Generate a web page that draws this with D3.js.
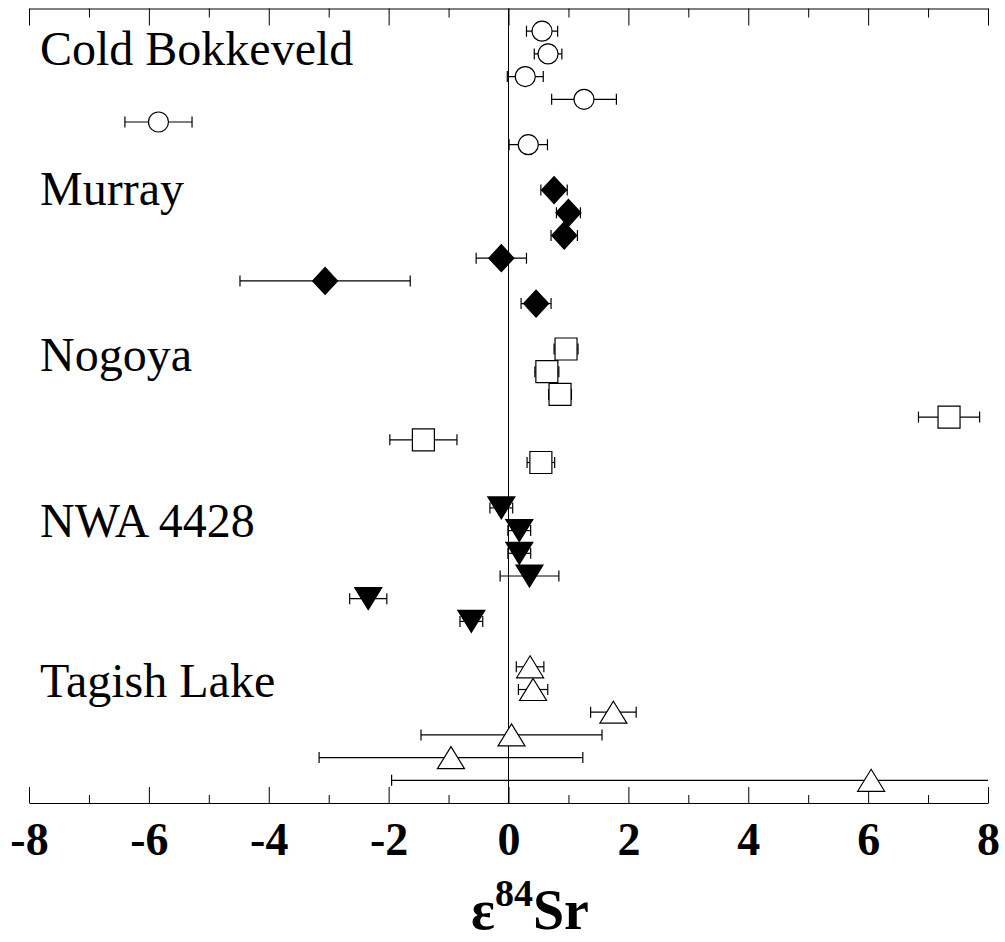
<!DOCTYPE html>
<html>
<head>
<meta charset="utf-8">
<script src="https://cdn.jsdelivr.net/npm/d3@7/dist/d3.min.js"></script>
<style>
  html, body { margin: 0; padding: 0; background: #fff; }
  svg { display: block; }
</style>
</head>
<body>
<svg id="chart" width="1005" height="942"></svg>
<script>
// Meteorite names (one group of analyses each)
const meteorites = ["Cold Bokkeveld", "Murray", "Nogoya", "NWA 4428", "Tagish Lake"];
// Marker used for each meteorite
const markers = ["circle", "diamond", "square", "triangleDown", "triangleUp"];
const filled = [false, true, false, true, false];

// ε84Sr values of the individual analyses, one array per meteorite
const coldBokkeveld = [0.56, 0.66, 0.28, 1.26, -5.84, 0.33];
const murray        = [0.76, 1.00, 0.93, -0.12, -3.06, 0.46];
const nogoya        = [0.96, 0.64, 0.86, 7.35, -1.42, 0.54];
const nwa4428       = [-0.12, 0.18, 0.18, 0.35, -2.34, -0.62];
const tagishLake    = [0.36, 0.41, 1.75, 0.05, -0.96, 6.05];

// 2σ uncertainties of the same analyses
const coldBokkeveldErr = [0.26, 0.23, 0.30, 0.54, 0.56, 0.32];
const murrayErr        = [0.22, 0.20, 0.22, 0.42, 1.42, 0.25];
const nogoyaErr        = [0.20, 0.20, 0.19, 0.51, 0.56, 0.23];
const nwa4428Err       = [0.19, 0.19, 0.19, 0.49, 0.31, 0.19];
const tagishLakeErr    = [0.23, 0.245, 0.38, 1.51, 2.20, 8.00];

// x-axis ticks
const majorTicks = [-8, -6, -4, -2, 0, 2, 4, 6, 8];
const minorTicks = [-7, -5, -3, -1, 1, 3, 5, 7];

const values = [coldBokkeveld, murray, nogoya, nwa4428, tagishLake];
const errors = [coldBokkeveldErr, murrayErr, nogoyaErr, nwa4428Err, tagishLakeErr];

// Layout
const plotLeft = 29, plotRight = 988, plotTop = 8.5, plotBottom = 803;
const rowsPerGroup = 7;          // six analyses plus one blank row
const labelRow = [2.5, 8.65, 15.95, 23.3, 30.35];

const x = d3.scaleLinear().domain([-8, 8]).range([plotLeft, plotRight]);
const y = d3.scaleLinear().domain([0, 35]).range([plotTop, plotBottom]);

const svg = d3.select("#chart");

// Flatten into points, each on its own row
const points = [];
values.forEach((arr, g) => {
  arr.forEach((v, i) => {
    points.push({ g, v, e: errors[g][i], row: g * rowsPerGroup + i + 1 });
  });
});

// Zero line
svg.append("line")
  .attr("x1", x(0)).attr("x2", x(0))
  .attr("y1", plotTop).attr("y2", plotBottom)
  .attr("stroke", "#000").attr("stroke-width", 1);

// Top axis: ticks pointing down, no labels
const topMajor = d3.axisBottom(x).tickValues(majorTicks).tickSize(17).tickSizeOuter(0).tickFormat("");
const topMinor = d3.axisBottom(x).tickValues(minorTicks).tickSize(9).tickSizeOuter(0).tickFormat("");
svg.append("g").attr("transform", `translate(0,${plotTop})`).call(topMajor);
svg.append("g").attr("transform", `translate(0,${plotTop})`).call(topMinor).select(".domain").remove();

// Bottom axis: ticks pointing up, bold labels below
const botMajor = d3.axisBottom(x).tickValues(majorTicks).tickSize(-16).tickSizeOuter(0).tickPadding(19)
  .tickFormat(d => d < 0 ? "-" + Math.abs(d) : String(d));
const botMinor = d3.axisBottom(x).tickValues(minorTicks).tickSize(-8).tickSizeOuter(0).tickFormat("");
const gb = svg.append("g").attr("transform", `translate(0,${plotBottom})`).call(botMajor);
svg.append("g").attr("transform", `translate(0,${plotBottom})`).call(botMinor).select(".domain").remove();

svg.selectAll(".domain, .tick line").attr("stroke", "#000").attr("stroke-width", 1);
gb.selectAll(".tick text")
  .attr("fill", "#000")
  .style("font-family", "'Liberation Serif', 'Times New Roman', serif")
  .style("font-weight", "bold")
  .style("font-size", "46px");

// Axis title ε84Sr
const title = svg.append("text")
  .attr("x", 530).attr("y", 929)
  .attr("text-anchor", "middle")
  .style("font-family", "'Liberation Serif', 'Times New Roman', serif")
  .style("font-weight", "bold")
  .style("font-size", "56px")
  .attr("fill", "#000");
title.append("tspan").text("ε");
title.append("tspan").attr("dy", -23).style("font-size", "38px").text("84");
title.append("tspan").attr("dy", 23).text("Sr");

// Group labels
svg.selectAll("text.group")
  .data(meteorites)
  .enter().append("text")
  .attr("class", "group")
  .attr("x", 40)
  .attr("y", (d, i) => y(labelRow[i]))
  .style("font-family", "'Liberation Serif', 'Times New Roman', serif")
  .style("font-size", "48px")
  .attr("fill", "#000")
  .text(d => d);

// Error bars, clipped to the axis range
svg.append("defs").append("clipPath").attr("id", "plotClip")
  .append("rect").attr("x", plotLeft).attr("y", plotTop)
  .attr("width", plotRight - plotLeft).attr("height", plotBottom - plotTop);

const bars = svg.append("g").attr("clip-path", "url(#plotClip)")
  .selectAll("g.bar").data(points).enter().append("g").attr("class", "bar");
const cap = 5.5;
bars.append("line")
  .attr("x1", d => x(d.v - d.e)).attr("x2", d => x(d.v + d.e))
  .attr("y1", d => y(d.row)).attr("y2", d => y(d.row));
bars.append("line")
  .attr("x1", d => x(d.v - d.e)).attr("x2", d => x(d.v - d.e))
  .attr("y1", d => y(d.row) - cap).attr("y2", d => y(d.row) + cap);
bars.append("line")
  .attr("x1", d => x(d.v + d.e)).attr("x2", d => x(d.v + d.e))
  .attr("y1", d => y(d.row) - cap).attr("y2", d => y(d.row) + cap);
bars.selectAll("line").attr("stroke", "#000").attr("stroke-width", 1.2);

// Marker shapes centred on (0,0)
function shapePath(type) {
  switch (type) {
    case "diamond": return "M0,-13.5L12.5,0L0,13.5L-12.5,0Z";
    case "square": return "M-11,-11H11V11H-11Z";
    case "triangleDown": return "M-13.5,-11H13.5L0,11Z";
    case "triangleUp": return "M0,-11L13.5,11H-13.5Z";
    default: return null;
  }
}

const marks = svg.append("g").selectAll("g.mark").data(points).enter().append("g")
  .attr("class", "mark")
  .attr("transform", d => `translate(${x(d.v)},${y(d.row)})`);

marks.each(function (d) {
  const sel = d3.select(this);
  const type = markers[d.g];
  const el = type === "circle"
    ? sel.append("circle").attr("r", 10)
    : sel.append("path").attr("d", shapePath(type));
  el.attr("fill", filled[d.g] ? "#000" : "#fff")
    .attr("stroke", "#000")
    .attr("stroke-width", 1.2);
});
</script>
</body>
</html>
